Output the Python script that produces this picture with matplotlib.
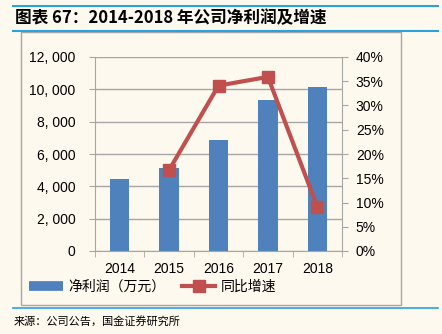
import matplotlib.pyplot as plt
from matplotlib.lines import Line2D
from matplotlib.patches import Rectangle
from matplotlib.ticker import FuncFormatter, MultipleLocator

plt.rcParams['font.family'] = ['Noto Sans CJK SC', 'DejaVu Sans']

years = ['2014', '2015', '2016', '2017', '2018']
profit = [4460, 5120, 6850, 9310, 10140]
growth = [None, 16.7, 34.1, 35.9, 9.1]

BG = '#FEF9EF'
BLUE = '#4F81BD'
RED = '#C0504D'
LINE = '#29A3E0'
TICKFONT = ['Liberation Sans', 'DejaVu Sans']

fig = plt.figure(figsize=(4.42, 3.34), dpi=100, facecolor=BG)
W, H = 442, 334

def fx(x):
    return x / W

def fy(y):
    return 1 - y / H

# title and rules
fig.add_artist(Line2D([fx(13), fx(438)], [fy(5.5), fy(5.5)], color=LINE, lw=1.5))
fig.add_artist(Line2D([fx(13), fx(438)], [fy(31), fy(31)], color=LINE, lw=1.5))
fig.add_artist(Line2D([fx(13), fx(438)], [fy(308), fy(308)], color=LINE, lw=1.2))
fig.text(fx(15), fy(18), '图表 67：2014-2018 年公司净利润及增速', fontsize=12,
         fontweight='bold', style='italic', va='center', ha='left')
fig.text(fx(14), fy(321), '来源：公司公告，国金证券研究所', fontsize=8, va='center', ha='left')

# inner chart box
fig.add_artist(Rectangle((fx(20.5), fy(305)), fx(401) - fx(20.5), fy(32) - fy(305),
                         transform=fig.transFigure, fill=False, ec='#A6A6A6', lw=1))

ax = fig.add_axes([fx(95), fy(251), fx(342) - fx(95), fy(57) - fy(251)])
ax.set_facecolor('none')
x = list(range(len(years)))
ax.bar(x, profit, width=0.39, color=BLUE, zorder=2)
ax.set_xlim(-0.5, len(years) - 0.5)
ax.set_ylim(0, 12000)
ax.yaxis.set_major_locator(MultipleLocator(2000))
ax.yaxis.set_major_formatter(FuncFormatter(lambda v, p: '0' if v == 0 else f'{int(v):,}'.replace(',', ', ')))
ax.grid(axis='y', color='#A6A6A6', lw=1, zorder=0)
ax.set_xticks(x)
ax.set_xticklabels(years)
ax.set_xticks([i - 0.5 for i in range(len(years) + 1)], minor=True)
ax.tick_params(axis='x', which='major', length=0, pad=8, labelsize=10)
ax.tick_params(axis='x', which='minor', length=4, color='#A6A6A6', direction='out')
ax.tick_params(axis='y', length=4, color='#A6A6A6', labelsize=10, pad=10)
for s in ['top', 'right']:
    ax.spines[s].set_visible(False)
ax.spines['left'].set_color('#A6A6A6')
ax.spines['bottom'].set_color('#A6A6A6')

ax2 = ax.twinx()
ax2.set_ylim(0, 40)
ax2.yaxis.set_major_locator(MultipleLocator(5))
ax2.yaxis.set_major_formatter(FuncFormatter(lambda v, p: f'{int(v)}%'))
gx = [i for i, g in enumerate(growth) if g is not None]
gy = [g for g in growth if g is not None]
ax2.plot(gx, gy, color=RED, lw=3, marker='s', ms=9, zorder=3)
ax2.tick_params(axis='y', length=4, color='#A6A6A6', labelsize=10, pad=6)
for s in ['top', 'left', 'bottom']:
    ax2.spines[s].set_visible(False)
ax2.spines['right'].set_color('#A6A6A6')

for lab in ax.get_xticklabels() + ax.get_yticklabels() + ax2.get_yticklabels():
    lab.set_family(TICKFONT)

handles = [Line2D([], [], color=BLUE, lw=7, solid_capstyle='butt', label='净利润（万元）'),
           Line2D([], [], color=RED, lw=3, marker='s', ms=9, label='同比增速')]
fig.legend(handles=handles, loc='center', bbox_to_anchor=(fx(153), fy(287)), ncol=2,
           frameon=False, fontsize=10, handlelength=2.4, columnspacing=1.2, handletextpad=0.4)

fig.savefig('out.png', dpi=100, facecolor=BG)
